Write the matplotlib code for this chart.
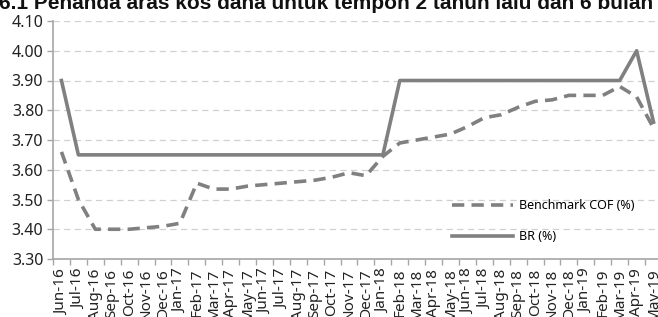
import matplotlib
matplotlib.use("Agg")
import matplotlib.pyplot as plt
import numpy as np

months = ["Jun-16", "Jul-16", "Aug-16", "Sep-16", "Oct-16", "Nov-16", "Dec-16",
          "Jan-17", "Feb-17", "Mar-17", "Apr-17", "May-17", "Jun-17", "Jul-17",
          "Aug-17", "Sep-17", "Oct-17", "Nov-17", "Dec-17",
          "Jan-18", "Feb-18", "Mar-18", "Apr-18", "May-18", "Jun-18", "Jul-18",
          "Aug-18", "Sep-18", "Oct-18", "Nov-18", "Dec-18",
          "Jan-19", "Feb-19", "Mar-19", "Apr-19", "May-19"]

cof = [3.66, 3.50, 3.40, 3.40, 3.40, 3.405, 3.41, 3.42, 3.555, 3.535, 3.535, 3.545,
       3.55, 3.555, 3.56, 3.565, 3.575, 3.59, 3.58, 3.645, 3.69, 3.70, 3.71, 3.72,
       3.745, 3.775, 3.785, 3.81, 3.83, 3.835, 3.85, 3.85, 3.85, 3.88, 3.845, 3.74]

br = [3.90, 3.65, 3.65, 3.65, 3.65, 3.65, 3.65, 3.65, 3.65, 3.65, 3.65, 3.65,
      3.65, 3.65, 3.65, 3.65, 3.65, 3.65, 3.65, 3.65, 3.90, 3.90, 3.90, 3.90,
      3.90, 3.90, 3.90, 3.90, 3.90, 3.90, 3.90, 3.90, 3.90, 3.90, 4.00, 3.76]

yticks = [3.30, 3.40, 3.50, 3.60, 3.70, 3.80, 3.90, 4.00, 4.10]

title = "6.1 Penanda aras kos dana untuk tempoh 2 tahun lalu dan 6 bulan"

W, H = 658, 317
fig = plt.figure(figsize=(W / 100, H / 100), dpi=100)
left, right, top, bottom = 53, 662, 21, 259
ax = fig.add_axes([left / W, 1 - bottom / H, (right - left) / W, (bottom - top) / H])

x = np.arange(len(months))
line_col = "#808080"
ax.plot(x, cof, color=line_col, lw=2.6, dashes=(3.4, 2.0), solid_capstyle="butt",
        label="Benchmark COF (%)")
ax.plot(x, br, color=line_col, lw=2.6, label="BR (%)")

ax.set_xlim(-0.5, len(months) - 0.5)
ax.set_ylim(3.30, 4.10)
ax.set_yticks(yticks)
ax.set_yticklabels([f"{v:.2f}" for v in yticks], fontsize=11.5, family="Noto Sans", color="#222222")
ax.set_xticks(x)
ax.set_xticklabels(months, rotation=90, fontsize=11, family="Noto Sans", color="#222222")
ax.set_xticks(np.arange(len(months) + 1) - 0.5, minor=True)
ax.tick_params(axis="x", which="major", length=0, pad=7)
ax.tick_params(axis="x", which="minor", length=4, color="#a6a6a6", width=1)
ax.tick_params(axis="y", length=4, color="#a6a6a6", width=1, pad=3)

for v in yticks[1:]:
    ax.axhline(v, color="#d0d0d0", lw=0.9, dashes=(5, 3.5), zorder=0)

for s in ["top", "right"]:
    ax.spines[s].set_visible(False)
for s in ["left", "bottom"]:
    ax.spines[s].set_color("#a6a6a6")
    ax.spines[s].set_linewidth(1.2)

leg = ax.legend(loc="upper left", bbox_to_anchor=((452 - left) / (right - left), 1 - (199 - top) / (bottom - top)),
                frameon=False, prop={"family": "Noto Sans", "size": 9}, handlelength=4.9,
                handletextpad=0.45, labelspacing=1.45, borderaxespad=0, borderpad=0)

fig.text(-0.002, 1 - 9 / H, title, fontsize=15, fontweight="bold", family="Liberation Sans",
         va="baseline", ha="left", color="#111111")

fig.savefig("out.png", dpi=100)
